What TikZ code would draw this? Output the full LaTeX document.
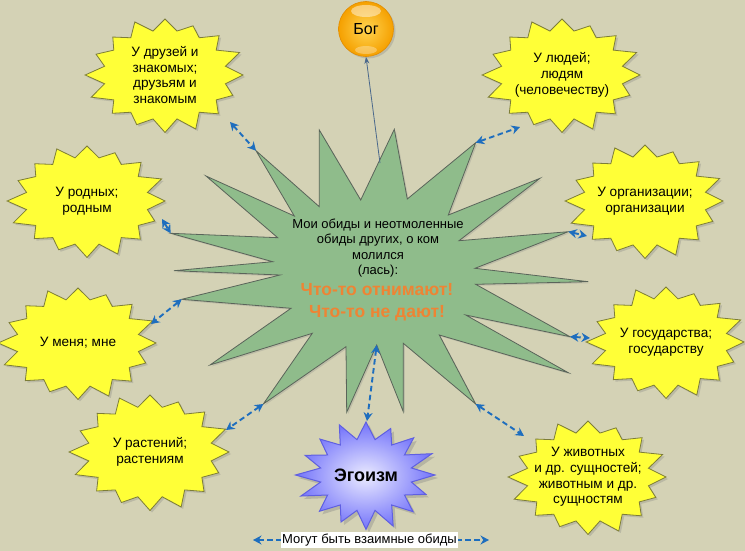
\documentclass[tikz,border=0pt]{standalone}
\usepackage{fontspec}
\setmainfont{Liberation Sans}
\usetikzlibrary{arrows.meta,shadows}
\definecolor{bgcol}{RGB}{212,210,181}
\definecolor{ystar}{RGB}{255,255,55}
\definecolor{yborder}{RGB}{125,125,55}
\definecolor{gstar}{RGB}{143,188,139}
\definecolor{gborder}{RGB}{90,100,90}
\definecolor{orangetxt}{RGB}{238,132,52}
\definecolor{arrowblue}{RGB}{30,110,190}
\definecolor{godline}{RGB}{75,105,140}
\definecolor{purp}{RGB}{115,115,250}
\definecolor{purpborder}{RGB}{95,95,225}
\definecolor{godin}{RGB}{255,212,80}
\definecolor{godout}{RGB}{245,160,0}
\definecolor{godborder}{RGB}{225,140,0}
\tikzset{
  yburst/.style={fill=ystar, draw=yborder, line width=0.8pt,
    drop shadow={shadow xshift=2pt, shadow yshift=-2pt, opacity=0.3}},
  pburst/.style={inner color=blue!8!white, outer color=purp, draw=purpborder, line width=1pt,
    drop shadow={shadow xshift=3pt, shadow yshift=-3pt, opacity=0.35}},
  gburst/.style={fill=gstar, draw=gborder, line width=0.8pt,
    drop shadow={shadow xshift=1.5pt, shadow yshift=-1.5pt, opacity=0.25}},
  bursttext/.style={align=center, font=\fontsize{13}{15.5}\selectfont, inner sep=0pt},
  ytext/.style={align=center, font=\fontsize{13.6}{15.8}\selectfont, inner sep=0pt},
  dbl/.style={draw=arrowblue, dash pattern=on 5.5pt off 3.5pt, line width=1.9pt,
    {Stealth[length=8.5pt,width=9pt]}-{Stealth[length=8.5pt,width=9pt]}},
  godarrow/.style={draw=godline, line width=0.8pt, -{Stealth[length=7pt,width=5pt]}},
}
\newcommand{\burst}[8]{%
  \path[#6] plot[samples at={0,...,31}, variable=\k]
   ({#2+#4*ifthenelse(mod(\k,2)==0, 1+0.05*sin(\k*137), #7)*cos(\k*11.25-90)},
    {#3+#5*ifthenelse(mod(\k,2)==0, 1+0.05*sin(\k*137), #7)*sin(\k*11.25-90)}) -- cycle;
  \node[ytext] (#1) at (#2,#3) {#8};
}
\begin{document}
\begin{tikzpicture}[x=1pt,y=-1pt]
\fill[bgcol] (0,0) rectangle (745,551);
\useasboundingbox (0,0) rectangle (745,551);

% central green star
\coordinate (tA) at (319.3,130);  \coordinate (vA) at (360.7,200);
\coordinate (tB) at (394.3,129.3);\coordinate (vB) at (407.3,199);
\coordinate (tC) at (475.7,142.7);\coordinate (vC) at (448.3,215);
\coordinate (tD) at (540,178.3);  \coordinate (vD) at (459,240.7);
\coordinate (tE) at (568.3,231.7);\coordinate (vE) at (475,268.3);
\coordinate (tF) at (588.3,281.7);\coordinate (vF) at (475.7,284.3);
\coordinate (tG) at (570,336.7);  \coordinate (vG) at (465.7,315);
\coordinate (tH) at (568.3,372.7);\coordinate (vH) at (439.3,335);
\coordinate (tI) at (475.7,404);  \coordinate (vI) at (403.3,343.3);
\coordinate (tJ) at (403.3,411.7);\coordinate (vJ) at (376.7,345);
\coordinate (tK) at (346.7,412.3);\coordinate (vK) at (346,346.7);
\coordinate (tL) at (263.3,404);  \coordinate (vL) at (312.3,333.3);
\coordinate (tM) at (210,365);    \coordinate (vM) at (291,308.3);
\coordinate (tN) at (181.7,299.3);\coordinate (vN) at (280,275);
\coordinate (tO) at (174,270.7);  \coordinate (vO) at (272.7,261.7);
\coordinate (tP) at (170.7,233.3);\coordinate (vP) at (277.7,237.7);
\coordinate (tQ) at (206,176);    \coordinate (vQ) at (294.3,216);
\coordinate (tR) at (256,150.7);  \coordinate (vR) at (319.3,206.7);
\path[gburst] (tA) -- (vA) -- (tB) -- (vB) -- (tC) -- (vC) -- (tD) -- (vD) -- (tE) -- (vE)
  -- (tF) -- (vF) -- (tG) -- (vG) -- (tH) -- (vH) -- (tI) -- (vI) -- (tJ) -- (vJ)
  -- (tK) -- (vK) -- (tL) -- (vL) -- (tM) -- (vM) -- (tN) -- (vN) -- (tO) -- (vO)
  -- (tP) -- (vP) -- (tQ) -- (vQ) -- (tR) -- (vR) -- cycle;
\node[bursttext] (center) at (378,248) {Мои обиды и неотмоленные\\обиды других, о ком\\молился\\(лась):};
\node[align=center, inner sep=0pt, text=orangetxt, font=\fontsize{17.5}{22}\selectfont\bfseries] (cry) at (377,302.5) {Что-то отнимают!\\Что-то не дают!};

% yellow stars
\burst{friends}{165}{75}{77}{56}{yburst}{0.8}{У друзей и\\знакомых;\\друзьям и\\знакомым}
\burst{kin}{87}{201}{77}{55}{yburst}{0.8}{У родных;\\родным}
\burst{me}{78}{343}{77}{55}{yburst}{0.8}{У меня; мне}
\burst{plants}{150}{452}{78}{57}{yburst}{0.8}{У растений;\\растениям}
\burst{people}{562}{75}{77}{56}{yburst}{0.8}{У людей;\\людям\\(человечеству)}
\burst{org}{645}{201}{77}{56}{yburst}{0.8}{У организации;\\организации}
\burst{state}{666}{342}{77}{55}{yburst}{0.8}{У государства;\\государству}
\burst{animals}{588}{477}{77}{56}{yburst}{0.8}{У животных\\и др. сущностей;\\животным и др.\\сущностям}
\burst{ego}{366}{475}{68}{53}{pburst}{0.68}{\fontsize{18}{20}\selectfont\bfseries Эгоизм}

% God
\node[circle, minimum size=55pt, inner sep=0pt, shading=radial, inner color=godin, outer color=godout,
  draw=godborder, line width=0.6pt, font=\fontsize{16}{18}\selectfont,
  drop shadow={shadow xshift=2pt, shadow yshift=-2pt, opacity=0.3}] (god) at (366,29) {Бог};
\fill[white, opacity=0.45] (366,11) ellipse (15pt and 6pt);
\fill[white, opacity=0.3] (366,50) ellipse (11pt and 4pt);

% connection points on outer shapes
\coordinate (pFriends) at (230,122);
\coordinate (pPeople) at (520,127);
\coordinate (pOrg) at (587,236);
\coordinate (pState) at (590,338);
\coordinate (pAnimals) at (524,436);
\coordinate (pEgo) at (367,421);
\coordinate (pPlants) at (226,430);
\coordinate (pMe) at (151,324);
\coordinate (pKin) at (162,219);
\coordinate (bogstart) at (380,163);

\draw[godarrow] (bogstart) -- (god.south);
\draw[dbl] (pFriends) -- (tR);
\draw[dbl] (tC) -- (pPeople);
\draw[dbl] (tE) -- (pOrg);
\draw[dbl] (tG) -- (pState);
\draw[dbl] (tI) -- (pAnimals);
\draw[dbl] (vJ) -- (pEgo);
\draw[dbl] (tL) -- (pPlants);
\draw[dbl] (tN) -- (pMe);
\draw[dbl] (pKin) -- (tP);

% legend
\coordinate (la) at (253,540);
\coordinate (lb) at (489,540);
\draw[dbl] (la) -- (lb);
\node[fill=white, inner xsep=1pt, inner ysep=1.5pt, font=\fontsize{13}{15}\selectfont] (legend) at (369.5,540) {Могут быть взаимные обиды};
\end{tikzpicture}
\end{document}
